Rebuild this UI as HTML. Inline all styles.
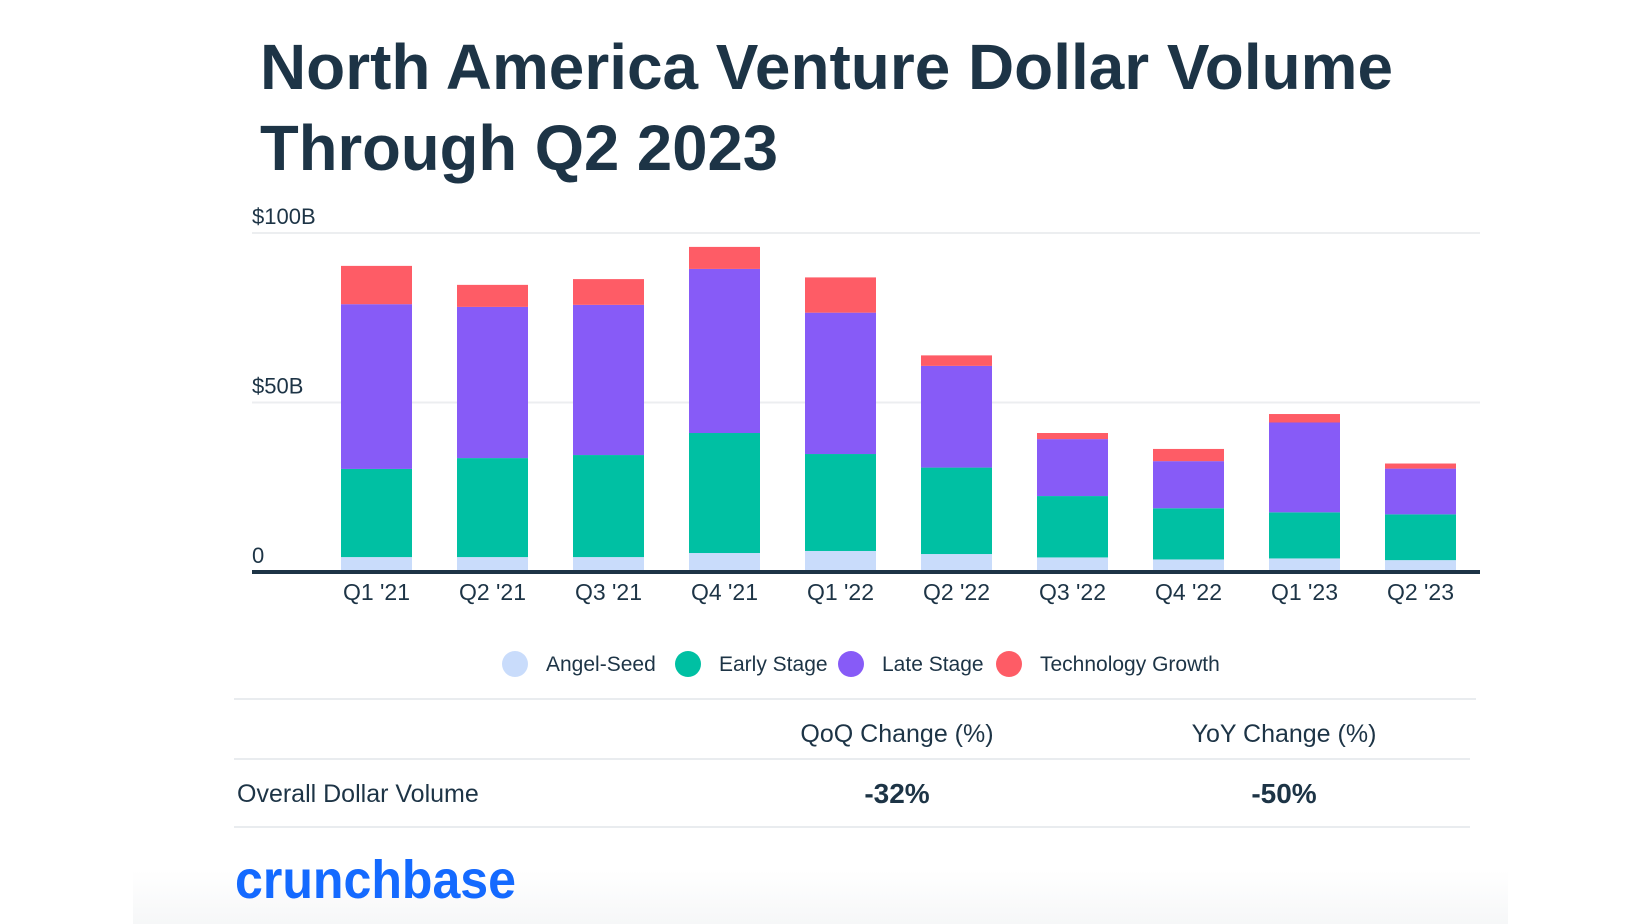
<!DOCTYPE html>
<html><head><meta charset="utf-8"><style>
html,body{margin:0;padding:0;background:#fff;width:1640px;height:924px;overflow:hidden}
svg text{font-family:"Liberation Sans",sans-serif;fill:#1d3446}
</style></head><body>
<svg id="chart" width="1640" height="924" viewBox="0 0 1640 924" xmlns="http://www.w3.org/2000/svg">
<defs><linearGradient id="bg" x1="0" y1="0" x2="0" y2="1"><stop offset="0" stop-color="#ffffff"/><stop offset="1" stop-color="#f6f7f8"/></linearGradient></defs>
<rect x="133" y="870" width="1375" height="54" fill="url(#bg)"/>
<text x="260" y="89" font-size="64" font-weight="bold" textLength="1133" lengthAdjust="spacingAndGlyphs">North America Venture Dollar Volume</text>
<text x="260" y="170" font-size="64" font-weight="bold" textLength="518" lengthAdjust="spacingAndGlyphs">Through Q2 2023</text>
<g id="grid"></g>
<g id="bars"></g>
<g id="xlabels"></g>
<line x1="252" y1="572" x2="1480" y2="572" stroke="#1d3446" stroke-width="4"/>
<g id="legend"></g>
<line x1="234" y1="699" x2="1476" y2="699" stroke="#e9ecef" stroke-width="2"/>
<line x1="234" y1="759" x2="1470" y2="759" stroke="#e9ecef" stroke-width="2"/>
<line x1="234" y1="827" x2="1470" y2="827" stroke="#e9ecef" stroke-width="2"/>
<text x="897" y="742" font-size="25" text-anchor="middle">QoQ Change (%)</text>
<text x="1284" y="742" font-size="25" text-anchor="middle">YoY Change (%)</text>
<text x="237" y="802" font-size="25">Overall Dollar Volume</text>
<text x="897" y="803" font-size="28" font-weight="bold" text-anchor="middle">-32%</text>
<text x="1284" y="803" font-size="28" font-weight="bold" text-anchor="middle">-50%</text>
<text x="235" y="898" font-size="54" font-weight="bold" style="fill:#146aff" textLength="281" lengthAdjust="spacingAndGlyphs">crunchbase</text>
</svg>
<script>
const categories=["Q1 '21","Q2 '21","Q3 '21","Q4 '21","Q1 '22","Q2 '22","Q3 '22","Q4 '22","Q1 '23","Q2 '23"];
const angelSeed=[4.4,4.4,4.4,5.6,6.2,5.3,4.3,3.7,4.0,3.5];
const earlyStage=[26.0,29.2,30.1,35.4,28.6,25.5,18.1,15.1,13.6,13.5];
const lateStage=[48.6,44.6,44.3,48.4,41.7,30.0,16.8,13.9,26.5,13.5];
const techGrowth=[11.3,6.5,7.6,6.5,10.4,3.1,1.8,3.6,2.5,1.5];
const yTicks=[0,50,100];
const yTickLabels=["0","$50B","$100B"];
const seriesNames=["Angel-Seed","Early Stage","Late Stage","Technology Growth"];
const colors=["#c9dcfb","#00c0a3","#875bf7","#fe5c66"];
const NS="http://www.w3.org/2000/svg";
const y0=572,pxPer=3.39,x0=341,step=116,bw=71;
const yScale=v=>y0-v*pxPer;
const xScale=i=>x0+i*step;
function mk(t,a){const e=document.createElementNS(NS,t);for(const k in a)e.setAttribute(k,a[k]);return e;}
const grid=document.getElementById('grid');
yTicks.forEach((t,i)=>{
  if(t>0){const l=mk('line',{x1:252,x2:1480,y1:yScale(t),y2:yScale(t),stroke:'#eceef0','stroke-width':2});
  
  
  grid.appendChild(l);}
  const tx=mk('text',{x:252,y:yScale(t)-9,'font-size':22});
  tx.textContent=yTickLabels[i];
  
  
  grid.appendChild(tx);
});
const bars=document.getElementById('bars');
const series=[angelSeed,earlyStage,lateStage,techGrowth];
categories.forEach((c,i)=>{
  let acc=0;
  series.forEach((s,k)=>{
    const v=s[i];
    const r=mk('rect',{x:xScale(i),y:yScale(acc+v),width:bw,height:v*pxPer,fill:colors[k]});
    
    
    bars.appendChild(r);
    acc+=v;
  });
  const t=mk('text',{x:xScale(i)+bw/2,y:600,'font-size':23,'text-anchor':'middle'});
  t.textContent=c;
  
  
  document.getElementById('xlabels').appendChild(t);
});
const lg=document.getElementById('legend');
const lx=[515,688,851,1009];
seriesNames.forEach((n,k)=>{
  const c=mk('circle',{cx:lx[k],cy:664,r:13,fill:colors[k]});
  
  
  lg.appendChild(c);
  const t=mk('text',{x:lx[k]+31,y:671,'font-size':21});
  t.textContent=n;
  
  
  lg.appendChild(t);
});
</script>
</body></html>
